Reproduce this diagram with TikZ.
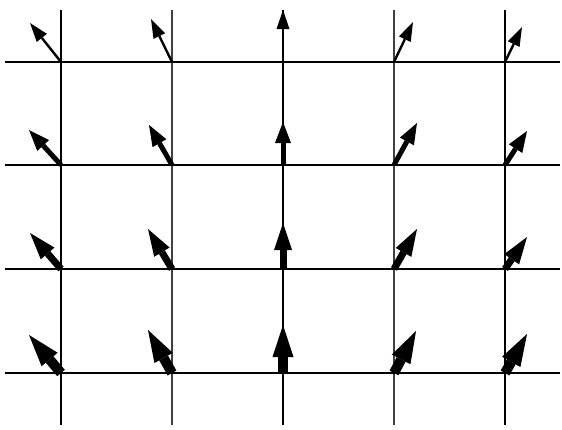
\documentclass[tikz,border=0pt]{standalone}
\usetikzlibrary{arrows.meta}
\begin{document}
\begin{tikzpicture}[x=1pt,y=-1pt,
  gridthick/.style={line width=2pt,black},
  gridthin/.style={line width=1.2pt,black!75},
  arrowA/.style={line width=2.4pt,-{Triangle[length=19pt,width=13pt,line width=0pt]}},
  arrowB/.style={line width=5pt,-{Triangle[length=21pt,width=16pt,line width=0pt]}},
  arrowC/.style={line width=7pt,-{Triangle[length=27pt,width=18pt,line width=0pt]}},
  arrowD/.style={line width=10pt,-{Triangle[length=32pt,width=21pt,line width=0pt]}}]
\useasboundingbox (0,0) rectangle (562,429);
\fill[white] (0,0) rectangle (562,429);
% grid line end points
\foreach \x [count=\i] in {61,172,283,394,505}{
  \coordinate (vt\i) at (\x,10);
  \coordinate (vb\i) at (\x,425);
}
\foreach \y [count=\j] in {62,165,269,373}{
  \coordinate (hl\j) at (5,\y);
  \coordinate (hr\j) at (560,\y);
  \foreach \x [count=\i] in {61,172,283,394,505}{
    \coordinate (p\j\i) at (\x,\y);
  }
}
% arrow tips
\coordinate (t11) at (30,23);  \coordinate (t12) at (151,19); \coordinate (t13) at (283,10);
\coordinate (t14) at (413,22); \coordinate (t15) at (522,27);
\coordinate (t21) at (29,130); \coordinate (t22) at (149,125); \coordinate (t23) at (283,122);
\coordinate (t24) at (417,123); \coordinate (t25) at (527,131);
\coordinate (t31) at (30,233); \coordinate (t32) at (148,229); \coordinate (t33) at (283,223);
\coordinate (t34) at (417,229); \coordinate (t35) at (527,237);
\coordinate (t41) at (29,335); \coordinate (t42) at (148,330); \coordinate (t43) at (283,325);
\coordinate (t44) at (416,331); \coordinate (t45) at (527,334);
% grid
\draw[gridthick] (vt1) -- (vb1);
\draw[gridthin]  (vt2) -- (vb2);
\draw[gridthick] (vt3) -- (vb3);
\draw[gridthin]  (vt4) -- (vb4);
\draw[gridthick] (vt5) -- (vb5);
\draw[gridthick] (hl1) -- (hr1);
\draw[gridthick] (hl2) -- (hr2);
\draw[line width=1.4pt] (hl3) -- (hr3);
\draw[gridthick] (hl4) -- (hr4);
% arrows
\foreach \i in {1,...,5}{
  \draw[arrowA] (p1\i) -- (t1\i);
  \draw[arrowB] (p2\i) -- (t2\i);
  \draw[arrowC] (p3\i) -- (t3\i);
  \draw[arrowD] (p4\i) -- (t4\i);
}
\end{tikzpicture}
\end{document}
